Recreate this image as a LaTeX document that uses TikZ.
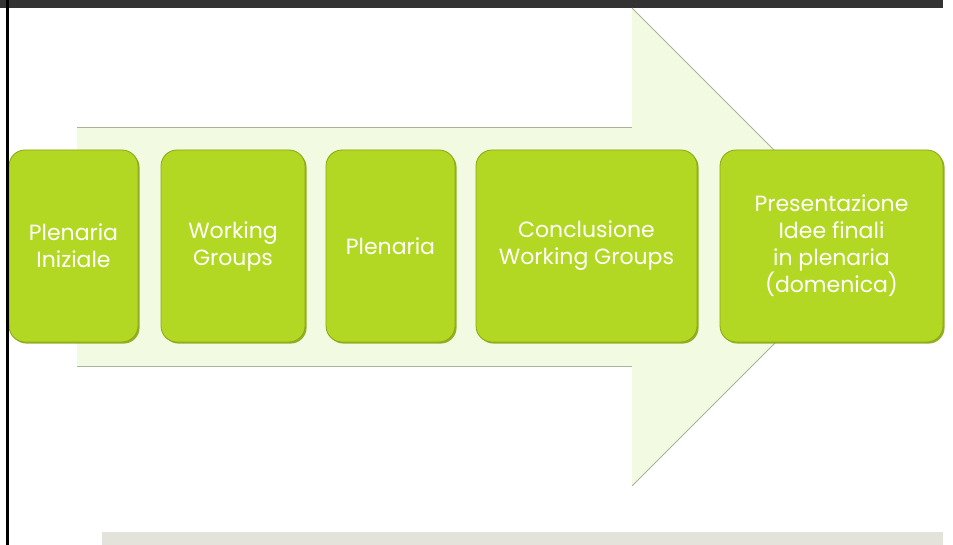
\documentclass[tikz,border=0pt]{standalone}
\usepackage{fontspec}
\setmainfont{Poppins}
\usepackage{tikz}
\usetikzlibrary{shadows}

\definecolor{stagegreen}{HTML}{B3D823}
\definecolor{stageedge}{HTML}{8AA612}
\definecolor{arrowfill}{HTML}{F2FBE2}
\definecolor{arrowedge}{HTML}{A9B29A}
\definecolor{topbar}{HTML}{333333}
\definecolor{footbar}{HTML}{E3E3DC}

\tikzset{
  stage/.style={rectangle, rounded corners=16pt, fill=stagegreen, draw=stageedge, line width=0.8pt,
    minimum height=192pt, inner sep=0pt, text=white, align=center,
    font=\fontsize{22}{27}\selectfont,
    drop shadow={shadow xshift=1.6pt, shadow yshift=-1.6pt, fill=stageedge, opacity=0.9}},
}

\begin{document}
\begin{tikzpicture}[x=1pt,y=-1pt]
  \useasboundingbox (0,0) rectangle (953,545);
  % frame
  \fill[topbar] (0,0) rectangle (943,8);
  \fill[footbar] (102,532) rectangle (943,545);
  % big arrow
  \fill[arrowfill] (77,127) -- (632,127) -- (632,8) -- (871,247) -- (632,486) -- (632,366) -- (77,366) -- cycle;
  \draw[arrowedge, line width=0.8pt] (77,127) -- (632,127);
  \draw[arrowedge, line width=0.6pt] (77,366) -- (632,366);
  \draw[arrowedge, line width=1pt] (632,8) -- (871,247) -- (632,486);
  % stages
  \node[stage, minimum width=129pt] (plenIniz) at (73.5,246) {Plenaria\\Iniziale};
  \node[stage, minimum width=144pt] (workGr) at (233,246) {Working\\Groups};
  \node[stage, minimum width=129pt] (plenaria) at (390.5,246) {Plenaria};
  \node[stage, minimum width=221pt] (conclWG) at (586.5,246) {Conclusione\\Working Groups};
  \node[stage, minimum width=223pt] (present) at (831.5,246) {Presentazione\\Idee finali\\in plenaria\\(domenica)};
  \fill[black] (6,0) rectangle (9,545);
\end{tikzpicture}
\end{document}
